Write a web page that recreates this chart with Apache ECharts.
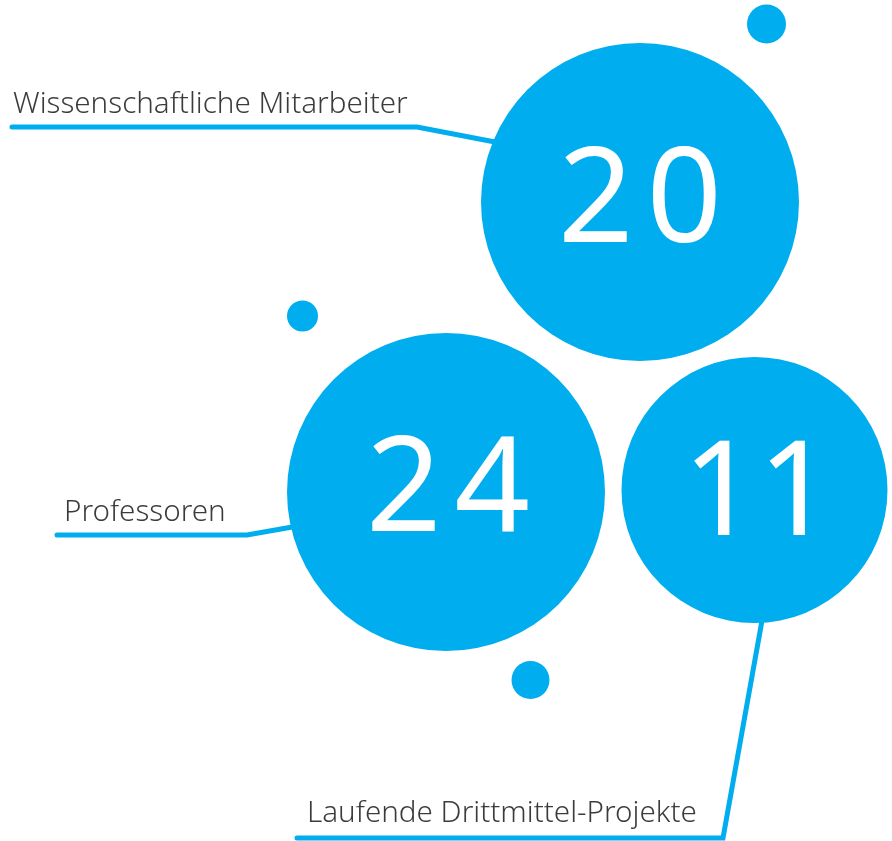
<!DOCTYPE html>
<html>
<head>
<meta charset="utf-8">
<style>html,body{margin:0;padding:0;background:#fff;}#c{width:892px;height:841px;}</style>
<script src="https://cdn.jsdelivr.net/npm/echarts@6/dist/echarts.min.js"></script>
</head>
<body>
<div id="c"></div>
<script>
// ---- data ----
var categories = ['Wissenschaftliche Mitarbeiter', 'Professoren', 'Laufende Drittmittel-Projekte'];
var values = [20, 24, 11];

// ---- layout (pixel space of the 892x841 canvas) ----
var bubbleCenters = [[640, 202], [446, 492], [754.5, 490]];
var bubbleRadii = [159, 159, 133];
var bubbleLabelOffsets = [[0, 2], [2, 1.5], [3.5, 7]];
var bubbleDigitGaps = ['\u200A', '\u200A', ''];
var dotCenters = [[766.5, 24], [302.5, 316], [530.5, 680]];
var dotRadii = [19.5, 15.5, 19];
var leaderPaths = [
  [[12, 127], [417, 127], [495, 142]],
  [[57, 535], [247, 535], [298, 526]],
  [[297, 838], [723, 838], [763, 615]]
];
var labelAnchors = [[13, 105], [64, 513], [307, 814]];

var BLUE = '#00aeef';
var TEXT = '#0a0a0a';

var series = [];
leaderPaths.forEach(function (p) {
  series.push({
    type: 'line', data: p, symbol: 'none', silent: true, z: 1,
    lineStyle: { color: BLUE, width: 5, cap: 'round', join: 'miter' }
  });
});
series.push({
  type: 'scatter', z: 2, silent: true,
  data: dotCenters.map(function (c, i) { return { value: c, symbolSize: dotRadii[i] * 2 }; }),
  itemStyle: { color: BLUE, opacity: 1 }
});
series.push({
  type: 'scatter', z: 3, silent: true,
  data: bubbleCenters.map(function (c, i) {
    return {
      value: c.concat([values[i]]), name: categories[i], symbolSize: bubbleRadii[i] * 2,
      label: { offset: bubbleLabelOffsets[i] }
    };
  }),
  itemStyle: { color: BLUE, opacity: 1 },
  label: {
    show: true, position: 'inside',
    formatter: function (p) { return String(p.value[2]).split('').join(bubbleDigitGaps[p.dataIndex]); },
    color: '#ffffff', fontSize: 132, fontFamily: 'Noto Sans', fontWeight: 400
  }
});
series.push({
  type: 'scatter', z: 4, silent: true, symbolSize: 0,
  data: labelAnchors.map(function (c, i) { return { value: c, name: categories[i] }; }),
  label: {
    show: true, position: 'right', distance: 0,
    formatter: function (p) { return p.name; },
    color: TEXT, fontSize: 29.6, fontFamily: 'Noto Sans', fontWeight: 300
  }
});

var chart = echarts.init(document.getElementById('c'), null, { renderer: 'canvas' });
chart.setOption({
  backgroundColor: '#ffffff',
  animation: false,
  grid: { left: 0, right: 0, top: 0, bottom: 0 },
  xAxis: { type: 'value', min: 0, max: 892, show: false },
  yAxis: { type: 'value', min: 0, max: 841, inverse: true, show: false },
  series: series
});
</script>
</body>
</html>
